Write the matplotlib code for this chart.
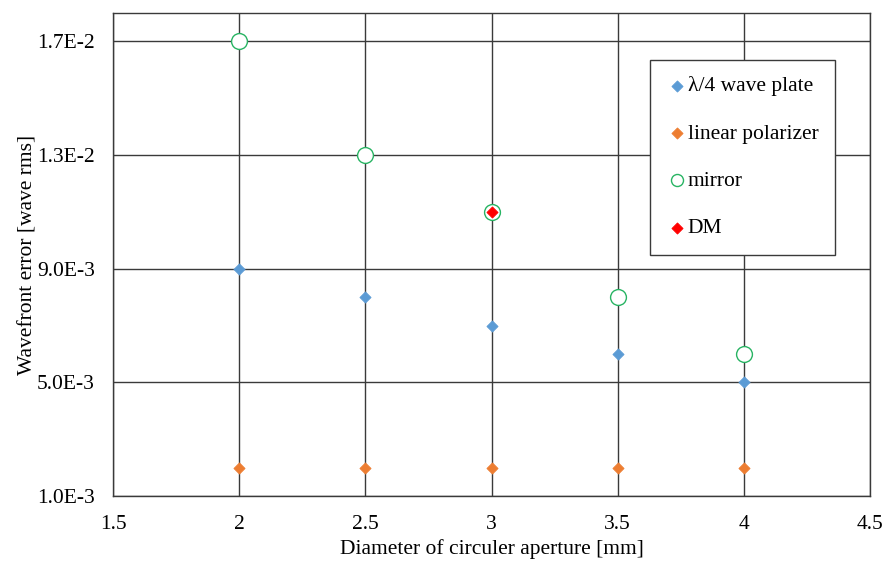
import matplotlib
matplotlib.use("Agg")
import matplotlib.pyplot as plt
from matplotlib.ticker import FixedLocator

plt.rcParams['font.family'] = ['Liberation Serif', 'DejaVu Serif']

diameters = [2.0, 2.5, 3.0, 3.5, 4.0]
quarter_wave = [9.0e-3, 8.0e-3, 7.0e-3, 6.0e-3, 5.0e-3]
linear_pol = [2.0e-3, 2.0e-3, 2.0e-3, 2.0e-3, 2.0e-3]
mirror = [1.7e-2, 1.3e-2, 1.1e-2, 8.0e-3, 6.0e-3]
dm_x = [3.0]
dm_y = [1.1e-2]

y_ticks = [1.0e-3, 5.0e-3, 9.0e-3, 1.3e-2, 1.7e-2]
y_tick_labels = ["1.0E-3", "5.0E-3", "9.0E-3", "1.3E-2", "1.7E-2"]
x_ticks = [1.5, 2, 2.5, 3, 3.5, 4, 4.5]
x_tick_labels = ["1.5", "2", "2.5", "3", "3.5", "4", "4.5"]

FS = 15.5
fig = plt.figure(figsize=(8.87, 5.65), dpi=100)
ax = fig.add_axes([113/887, 1-496/565, (870-113)/887, (496-13)/565])

diamond = dict(marker='D', s=32, linewidths=0.6, zorder=3)
ax.scatter(diameters, quarter_wave, color='#5b9bd5', edgecolor='#5b9bd5',
           label='λ/4 wave plate', **diamond)
ax.scatter(diameters, linear_pol, color='#ed7d31', edgecolor='#ed7d31',
           label='linear polarizer', **diamond)
ax.scatter(diameters, mirror, marker='o', s=130, facecolor='white',
           edgecolor='#28b463', linewidths=1.0, label='mirror', zorder=3)
ax.scatter(dm_x, dm_y, color='#ff0000', edgecolor='#ff0000',
           label='DM', **{**diamond, 'zorder': 4})

ax.set_xlim(1.5, 4.5)
ax.set_ylim(1.0e-3, 1.8e-2)
ax.xaxis.set_major_locator(FixedLocator(x_ticks))
ax.set_xticklabels(x_tick_labels)
ax.yaxis.set_major_locator(FixedLocator(y_ticks))
ax.set_yticklabels(y_tick_labels)
ax.tick_params(axis='both', length=0, labelsize=FS, colors='black')
ax.tick_params(axis='x', pad=14)
ax.tick_params(axis='y', pad=13)
ax.grid(True, color='#3a3a3a', linewidth=1.0)
ax.set_axisbelow(True)
for sp in ax.spines.values():
    sp.set_color('#3a3a3a')
    sp.set_linewidth(1.0)

ax.set_xlabel('Diameter of circuler aperture [mm]', fontsize=FS, labelpad=3)
ax.set_ylabel('Wavefront error [wave rms]', fontsize=FS, labelpad=0)

leg = ax.legend(loc='upper left', bbox_to_anchor=((650-113)/757, 1-(60-13)/483),
                fontsize=FS, frameon=True, fancybox=False, framealpha=1,
                edgecolor='#3a3a3a', labelspacing=1.27, handletextpad=0.0,
                handlelength=1.0, borderpad=0.75, borderaxespad=0,
                scatterpoints=1)
leg.get_frame().set_linewidth(1.0)
for h in leg.legend_handles:
    h.set_sizes([32] if h.get_label() != 'mirror' else [75])

fig.savefig('out.png', dpi=100)
